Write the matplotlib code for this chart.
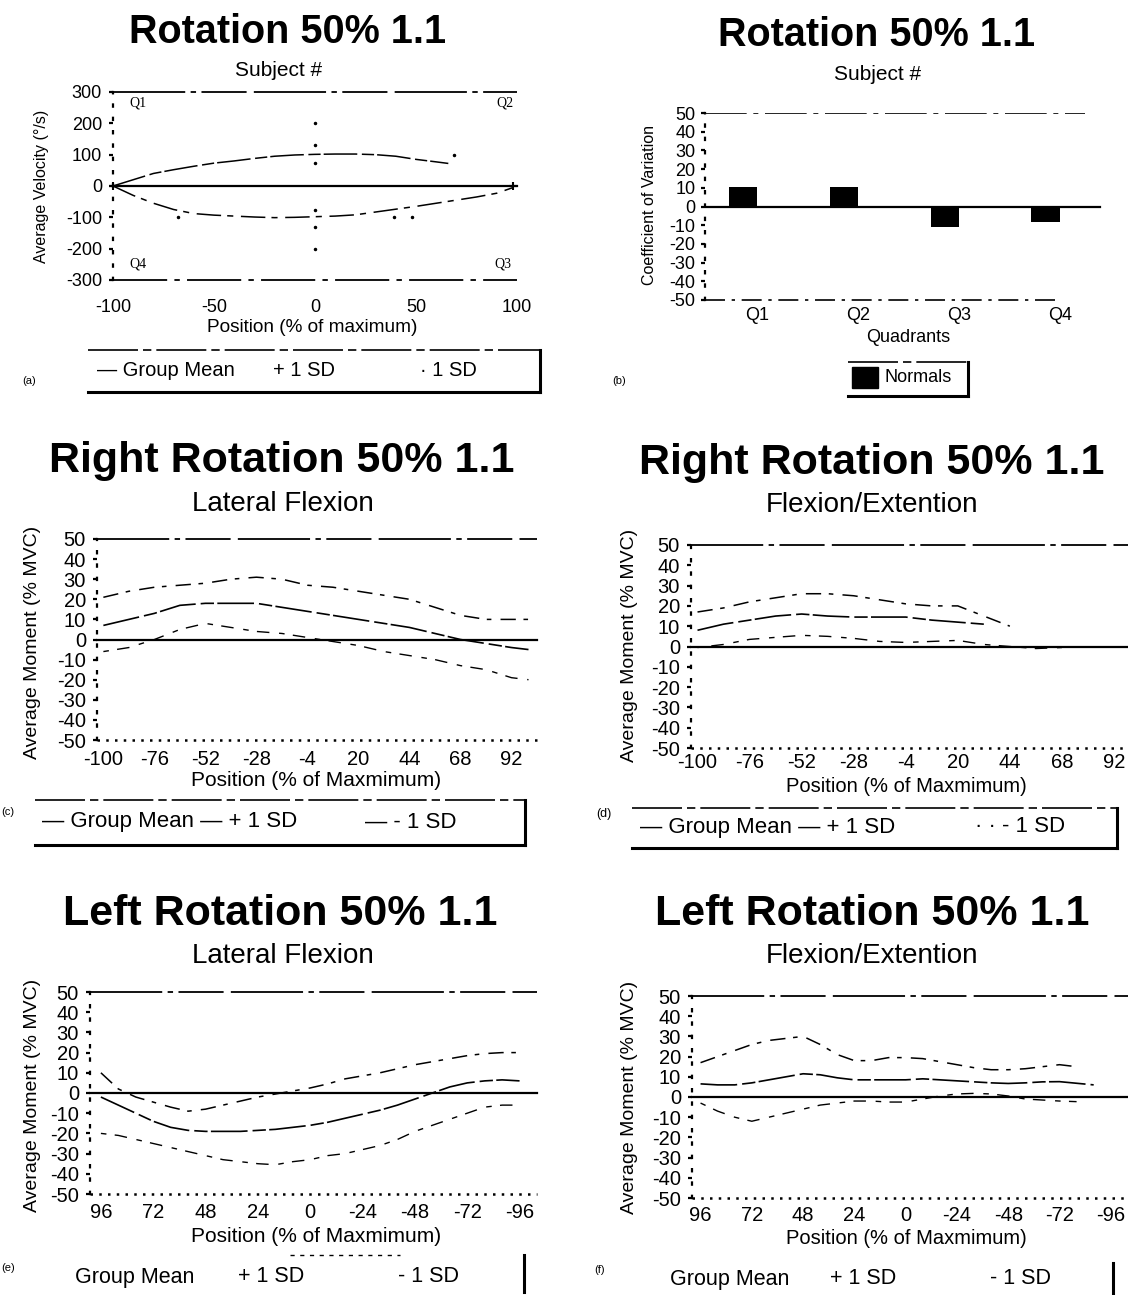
import numpy as np
import matplotlib.pyplot as plt
from matplotlib.lines import Line2D
from matplotlib.patches import Rectangle

plt.rcParams['font.family'] = ['Liberation Sans', 'DejaVu Sans']

W, H = 1128, 1295

# (a) velocity vs position, group mean loop
pos_a_up = [-100, -90, -80, -70, -60, -50, -40, -30, -20, -10, 0, 10, 20, 30, 40, 50, 60, 66]
vel_a_up = [0, 20, 40, 52, 63, 73, 80, 88, 95, 99, 101, 102, 102, 100, 95, 85, 77, 72]
pos_a_dn = [-100, -90, -80, -70, -60, -50, -40, -30, -20, -10, 0, 10, 20, 30, 40, 50, 60, 70, 80, 90, 98]
vel_a_dn = [0, -30, -55, -75, -88, -93, -96, -99, -101, -100, -98, -96, -92, -83, -74, -65, -55, -45, -35, -23, -5]
dot_a_x = [0, 0, 0, 0, 0, 0, -68, 39, 48, 69]
dot_a_y = [200, 130, 75, -75, -130, -200, -98, -100, -100, 99]

# (b) coefficient of variation per quadrant
quadrants = ['Q1', 'Q2', 'Q3', 'Q4']
cov_normals = [10.3, 10.6, -11.0, -8.3]

# (c) right rotation, lateral flexion
pos_c = [-100, -88, -76, -64, -52, -40, -28, -16, -4, 8, 20, 32, 44, 56, 68, 80, 92, 100]
plus_c = [21, 24, 26, 27, 28, 30, 31, 30, 27, 26, 24, 22, 20, 16, 12, 10, 10, 10]
mean_c = [7, 10, 13, 17, 18, 18, 18, 16, 14, 12, 10, 8, 6, 3, 0, -2, -4, -5]
minus_c = [-6, -4, 0, 5, 8, 6, 4, 3, 1, -1, -3, -6, -8, -10, -13, -15, -19, -20]

# (d) right rotation, flexion/extension
pos_d = [-100, -88, -76, -64, -52, -40, -28, -16, -4, 8, 20, 32, 44, 56, 68]
plus_d = [17, 19, 22, 24, 26, 26, 25, 23, 21, 20, 20, 15, 10]
mean_d = [8, 11, 13, 15, 16, 15, 14.5, 14.5, 14.5, 13, 12, 11]
minus_d = [-0.5, 1, 3.5, 4.5, 5.5, 5, 4, 2.5, 2, 2.5, 3, 1, 0, -1, -0.5]

# (e) left rotation, lateral flexion
pos_e = [96, 88, 80, 72, 64, 56, 48, 40, 32, 24, 16, 8, 0, -8, -16, -24, -32, -40, -48, -56, -64, -72, -80, -88, -96]
plus_e = [10, 2, -2, -4.5, -7, -9, -8, -6, -4, -2, -0.5, 1, 2.5, 4.5, 7, 8.5, 10, 12, 14, 15.5, 17, 18.5, 19.5, 20, 20]
mean_e = [-2, -6, -10, -14, -17, -18.5, -19, -19, -19, -18.5, -18, -17, -16, -14.5, -12.5, -10.5, -8.5, -6, -3, 0, 3, 5, 6, 6.5, 6]
minus_e = [-20, -21, -23, -25, -27, -29, -31, -33, -34, -35, -35.5, -34, -33, -31, -30, -28, -26, -23, -19, -16, -13, -10, -7, -6, -6]

# (f) left rotation, flexion/extension
pos_f = pos_e
plus_f = [17, 20, 23, 26, 28, 29, 30, 26, 21, 18, 18, 19.5, 19.5, 19, 17.5, 16, 14.5, 13.5, 13.5, 14, 15, 16, 15]
mean_f = [6.5, 6, 6, 7, 8.5, 10, 11.5, 11, 9.5, 8.5, 8.5, 8.5, 8.5, 9, 8.5, 8, 7.5, 7, 6.7, 7, 7.5, 7.6, 6.8, 6]
minus_f = [-3, -7, -10, -12, -10, -8, -6, -4, -3, -2, -2, -2.5, -2.5, -1, 0.5, 1.5, 1.8, 1.5, 0.5, -1, -1.5, -2, -2.3]

ticks_lat = [-100, -76, -52, -28, -4, 20, 44, 68, 92]
ticks_left = [96, 72, 48, 24, 0, -24, -48, -72, -96]
ticks_moment = list(range(-50, 51, 10))

MEAN_LS = (0, (22, 3, 8, 2))
PLUS_LS = (0, (10, 5, 3, 6))
MINUS_LS = (0, (4, 6, 9, 7))

fig = plt.figure(figsize=(W / 100, H / 100), dpi=100)


def box(l, t, r, b):
    return [l / W, 1 - b / H, (r - l) / W, (b - t) / H]


def fx(x):
    return x / W


def fy(y):
    return 1 - y / H


def style_axes(ax, ylim, yticks, size=13, xpad=5, bottom_dotted=True):
    for s in ['top', 'right', 'bottom']:
        ax.spines[s].set_visible(False)
    ax.spines['left'].set_linestyle((0, (1, 5)))
    ax.spines['left'].set_linewidth(1.6)
    ax.set_ylim(*ylim)
    ax.set_yticks(yticks)
    ax.set_yticklabels([str(v) for v in yticks])
    ax.tick_params(axis='y', length=3, width=1.6, pad=5, labelsize=size)
    ax.tick_params(axis='x', length=0, pad=xpad, labelsize=size)
    ax.axhline(ylim[1], color='k', lw=1.3, ls=(0, (40, 3, 3, 3, 25, 4)), clip_on=False)
    ax.axhline(0, color='k', lw=1.6, clip_on=False)
    if bottom_dotted:
        ax.axhline(ylim[0], color='k', lw=1.8, ls=(0, (1, 2.5)), clip_on=False)
    else:
        ax.axhline(ylim[0], color='k', lw=1.3, ls=(0, (30, 4, 3, 4)), clip_on=False)
    ax.set_facecolor('none')


def legend_frame(l, t, r, b):
    fig.add_artist(Line2D([fx(l), fx(r)], [fy(t), fy(t)], color='k', lw=1.2, ls=(0, (30, 3, 5, 3))))
    fig.add_artist(Line2D([fx(r), fx(r)], [fy(t), fy(b)], color='k', lw=2.2))
    fig.add_artist(Line2D([fx(l), fx(r)], [fy(b), fy(b)], color='k', lw=2.2))


def moment_lines(ax, pos, plus, mean, minus):
    ax.plot(pos[:len(plus)], plus, color='k', lw=1.1, ls=PLUS_LS)
    ax.plot(pos[:len(mean)], mean, color='k', lw=1.2, ls=MEAN_LS)
    ax.plot(pos[:len(minus)], minus, color='k', lw=1.0, ls=MINUS_LS)


# ---- (a) ----
ax_a = fig.add_axes(box(113, 92, 517, 280))
style_axes(ax_a, (-300, 300), list(range(-300, 301, 100)), size=13, xpad=14, bottom_dotted=False)
ax_a.set_xlim(-100, 100)
ax_a.set_xticks([-100, -50, 0, 50, 100])
ax_a.set_xticklabels(['-100', '-50', '0', '50', '100'])
ax_a.plot(pos_a_up, vel_a_up, color='k', lw=1.1, ls=MEAN_LS, clip_on=False)
ax_a.plot(pos_a_dn, vel_a_dn, color='k', lw=1.1, ls=(0, (16, 4, 4, 5)), clip_on=False)
ax_a.plot(dot_a_x, dot_a_y, 'k.', ms=3, ls='none')
ax_a.plot([-100, 98], [0, 0], 'k+', ms=6, mew=1.5, clip_on=False)
ax_a.text(-92, 265, 'Q1', fontsize=10, family='Liberation Serif', va='center')
ax_a.text(90, 265, 'Q2', fontsize=10, family='Liberation Serif', va='center')
ax_a.text(-92, -250, 'Q4', fontsize=10, family='Liberation Serif', va='center')
ax_a.text(89, -250, 'Q3', fontsize=10, family='Liberation Serif', va='center')

fig.text(fx(288), fy(32), 'Rotation 50% 1.1', ha='center', va='center', fontsize=28.5, fontweight='bold')
fig.text(fx(279), fy(70), 'Subject #', ha='center', va='center', fontsize=15)
fig.text(fx(42), fy(186), 'Average Velocity (\u00b0/s)', rotation=90, ha='center', va='center', fontsize=11.5)
fig.text(fx(312), fy(328), 'Position (% of maximum)', ha='center', va='center', fontsize=13.7)
legend_frame(88, 350, 540, 392)
fig.text(fx(97), fy(370), '\u2014 Group Mean', va='center', fontsize=14.5)
fig.text(fx(273), fy(370), '+ 1 SD', va='center', fontsize=14.5)
fig.text(fx(420), fy(370), '\u00b7 1 SD', va='center', fontsize=14.5)
fig.text(fx(22), fy(381), '(a)', va='center', fontsize=8)

# ---- (b) ----
ax_b = fig.add_axes(box(705, 113, 1110, 300))
for s in ['top', 'right', 'bottom']:
    ax_b.spines[s].set_visible(False)
ax_b.spines['left'].set_linestyle((0, (1, 5)))
ax_b.spines['left'].set_linewidth(1.6)
ax_b.set_xlim(-0.52, 3.5)
ax_b.set_ylim(-50, 50)
ax_b.set_yticks(ticks_moment)
ax_b.set_yticklabels([str(v) for v in ticks_moment])
ax_b.set_xticks(range(len(quadrants)))
ax_b.set_xticklabels(quadrants)
ax_b.tick_params(axis='y', length=3, width=1.6, pad=4, labelsize=13)
ax_b.tick_params(axis='x', length=0, pad=5, labelsize=13)
ax_b.plot([-0.52, 3.25], [50, 50], color='k', lw=1.2, ls=(0, (25, 4, 3, 4)))
ax_b.plot([-0.52, 3.4], [0, 0], color='k', lw=1.6)
ax_b.plot([-0.52, 2.95], [-50, -50], color='k', lw=1.2, ls=(0, (12, 4, 2, 4)), clip_on=False)
ax_b.bar(np.arange(len(quadrants)) - 0.14, cov_normals, width=0.28, color='k')
fig.text(fx(877), fy(35), 'Rotation 50% 1.1', ha='center', va='center', fontsize=28.5, fontweight='bold')
fig.text(fx(878), fy(74), 'Subject #', ha='center', va='center', fontsize=15)
fig.text(fx(650), fy(205), 'Coefficient of Variation', rotation=90, ha='center', va='center', fontsize=11.5)
fig.text(fx(908), fy(338), 'Quadrants', ha='center', va='center', fontsize=13)
legend_frame(848, 362, 968, 396)
fig.add_artist(Rectangle((fx(852), fy(388)), fx(26), 21 / H, color='k'))
fig.text(fx(884), fy(377), 'Normals', va='center', fontsize=13)
fig.text(fx(612), fy(381), '(b)', va='center', fontsize=8)

# ---- (c) ----
ax_c = fig.add_axes(box(97, 539, 537, 740))
style_axes(ax_c, (-50, 50), ticks_moment, size=14.5, xpad=7)
ax_c.set_xlim(-103, 104)
ax_c.set_xticks(ticks_lat)
ax_c.set_xticklabels([str(v) for v in ticks_lat])
moment_lines(ax_c, pos_c, plus_c, mean_c, minus_c)
fig.text(fx(282), fy(461), 'Right Rotation 50% 1.1', ha='center', va='center', fontsize=31, fontweight='bold')
fig.text(fx(283), fy(504), 'Lateral Flexion', ha='center', va='center', fontsize=20)
fig.text(fx(33), fy(642), 'Average Moment (% MVC)', rotation=90, ha='center', va='center', fontsize=14)
fig.text(fx(316), fy(781), 'Position (% of Maxmimum)', ha='center', va='center', fontsize=15)
legend_frame(35, 800, 525, 845)
fig.text(fx(42), fy(822), '\u2014 Group Mean \u2014 + 1 SD', va='center', fontsize=16)
fig.text(fx(365), fy(822), '\u2014 - 1 SD', va='center', fontsize=16)
fig.text(fx(1), fy(812), '(c)', va='center', fontsize=8)

# ---- (d) ----
ax_d = fig.add_axes(box(691, 545, 1140, 748))
style_axes(ax_d, (-50, 50), ticks_moment, size=14.5, xpad=3.5)
ax_d.set_xlim(-103, 104)
ax_d.set_xticks(ticks_lat)
ax_d.set_xticklabels([str(v) for v in ticks_lat])
moment_lines(ax_d, pos_d, plus_d, mean_d, minus_d)
fig.text(fx(872), fy(463), 'Right Rotation 50% 1.1', ha='center', va='center', fontsize=31, fontweight='bold')
fig.text(fx(872), fy(505), 'Flexion/Extention', ha='center', va='center', fontsize=20)
fig.text(fx(630), fy(645), 'Average Moment (% MVC)', rotation=90, ha='center', va='center', fontsize=14)
fig.text(fx(906), fy(786), 'Position (% of Maxmimum)', ha='center', va='center', fontsize=14.5)
legend_frame(632, 808, 1117, 848)
fig.text(fx(640), fy(827), '\u2014 Group Mean \u2014 + 1 SD', va='center', fontsize=16)
fig.text(fx(975), fy(827), '\u00b7 \u00b7 - 1 SD', va='center', fontsize=16)
fig.text(fx(596), fy(814), '(d)', va='center', fontsize=9)

# ---- (e) ----
ax_e = fig.add_axes(box(90, 992, 537, 1194))
style_axes(ax_e, (-50, 50), ticks_moment, size=14.5, xpad=6.5)
ax_e.set_xlim(101, -104)
ax_e.set_xticks(ticks_left)
ax_e.set_xticklabels([str(v) for v in ticks_left])
moment_lines(ax_e, pos_e, plus_e, mean_e, minus_e)
fig.text(fx(280), fy(914), 'Left Rotation 50% 1.1', ha='center', va='center', fontsize=31, fontweight='bold')
fig.text(fx(283), fy(956), 'Lateral Flexion', ha='center', va='center', fontsize=20)
fig.text(fx(33), fy(1095), 'Average Moment (% MVC)', rotation=90, ha='center', va='center', fontsize=14)
fig.text(fx(316), fy(1236), 'Position (% of Maxmimum)', ha='center', va='center', fontsize=15)
fig.add_artist(Line2D([fx(290), fx(400)], [fy(1255), fy(1255)], color='k', lw=1, ls=(0, (3, 4))))
fig.add_artist(Line2D([fx(524), fx(524)], [fy(1255), fy(1292)], color='k', lw=2.2))
fig.text(fx(75), fy(1277), 'Group Mean', va='center', fontsize=15.5)
fig.text(fx(238), fy(1277), '+ 1 SD', va='center', fontsize=15.5)
fig.text(fx(398), fy(1277), '- 1 SD', va='center', fontsize=15.5)
fig.text(fx(1), fy(1268), '(e)', va='center', fontsize=8)

# ---- (f) ----
ax_f = fig.add_axes(box(692, 996, 1130, 1198))
style_axes(ax_f, (-50, 50), ticks_moment, size=14.5, xpad=5.5)
ax_f.set_xlim(100, -105)
ax_f.set_xticks(ticks_left)
ax_f.set_xticklabels([str(v) for v in ticks_left])
moment_lines(ax_f, pos_f, plus_f, mean_f, minus_f)
fig.text(fx(872), fy(914), 'Left Rotation 50% 1.1', ha='center', va='center', fontsize=31, fontweight='bold')
fig.text(fx(872), fy(956), 'Flexion/Extention', ha='center', va='center', fontsize=20)
fig.text(fx(630), fy(1097), 'Average Moment (% MVC)', rotation=90, ha='center', va='center', fontsize=14)
fig.text(fx(906), fy(1239), 'Position (% of Maxmimum)', ha='center', va='center', fontsize=14.5)
fig.add_artist(Line2D([fx(1113), fx(1113)], [fy(1263), fy(1295)], color='k', lw=2.2))
fig.text(fx(670), fy(1279), 'Group Mean', va='center', fontsize=15.5)
fig.text(fx(830), fy(1279), '+ 1 SD', va='center', fontsize=15.5)
fig.text(fx(990), fy(1279), '- 1 SD', va='center', fontsize=15.5)
fig.text(fx(594), fy(1270), '(f)', va='center', fontsize=8)

fig.savefig('out.png', dpi=100)
